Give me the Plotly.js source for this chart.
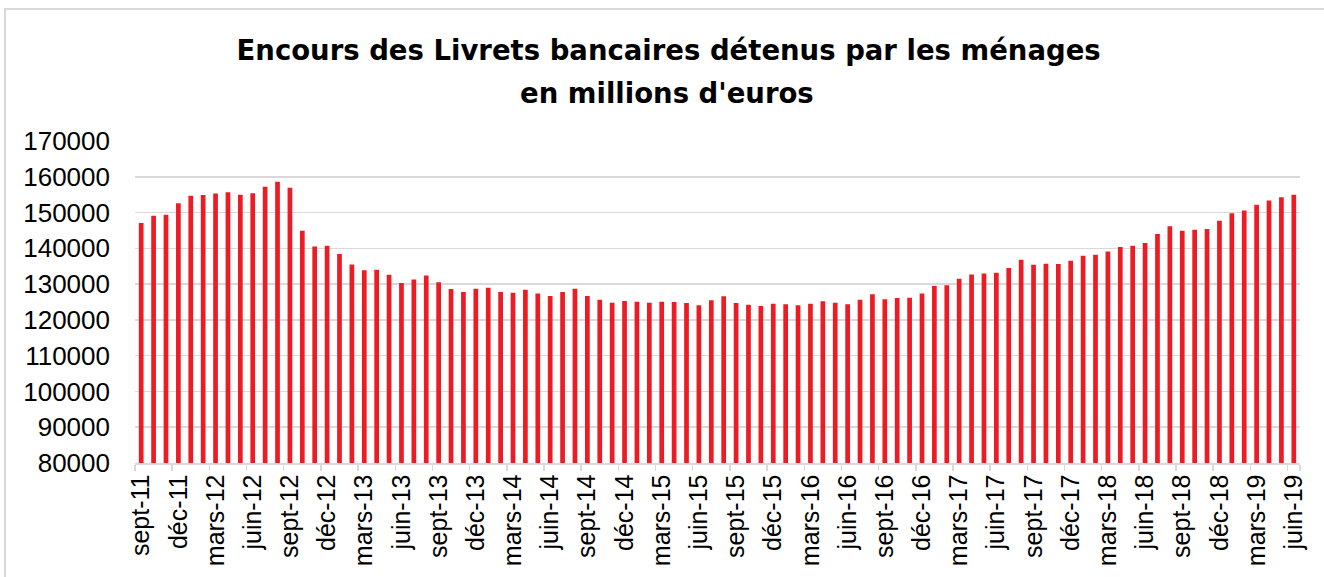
<!DOCTYPE html>
<html>
<head>
<meta charset="utf-8">
<script src="https://cdn.plot.ly/plotly-3.0.1.min.js"></script>
<style>
  html, body { margin: 0; padding: 0; background: #ffffff; }
  #wrap { position: relative; width: 1324px; height: 577px; overflow: hidden; }
  #chart { width: 1324px; height: 577px; }
  #frame { position: absolute; left: 4px; top: 8px; width: 1330px; height: 580px;
           border-left: 2px solid #d9d9d9; border-top: 2px solid #d9d9d9; pointer-events: none; }
</style>
</head>
<body>
<div id="wrap">
  <div id="chart"></div>
  <div id="frame"></div>
</div>
<script>
const categories = [
  "sept-11","oct-11","nov-11","déc-11",
  "janv-12","févr-12","mars-12","avr-12","mai-12","juin-12","juil-12","août-12","sept-12","oct-12","nov-12","déc-12",
  "janv-13","févr-13","mars-13","avr-13","mai-13","juin-13","juil-13","août-13","sept-13","oct-13","nov-13","déc-13",
  "janv-14","févr-14","mars-14","avr-14","mai-14","juin-14","juil-14","août-14","sept-14","oct-14","nov-14","déc-14",
  "janv-15","févr-15","mars-15","avr-15","mai-15","juin-15","juil-15","août-15","sept-15","oct-15","nov-15","déc-15",
  "janv-16","févr-16","mars-16","avr-16","mai-16","juin-16","juil-16","août-16","sept-16","oct-16","nov-16","déc-16",
  "janv-17","févr-17","mars-17","avr-17","mai-17","juin-17","juil-17","août-17","sept-17","oct-17","nov-17","déc-17",
  "janv-18","févr-18","mars-18","avr-18","mai-18","juin-18","juil-18","août-18","sept-18","oct-18","nov-18","déc-18",
  "janv-19","févr-19","mars-19","avr-19","mai-19","juin-19"
];

const encours = [
  147100, 149100, 149400, 152600,
  154700, 154900, 155300, 155700, 155000, 155400, 157200, 158600, 156900, 144900, 140500, 140700,
  138400, 135500, 133900, 134000, 132600, 130300, 131300, 132400, 130500, 128600, 127800, 128700,
  129000, 127800, 127600, 128400, 127400, 126700, 127800, 128700, 126700, 125600, 124800, 125300,
  125100, 124800, 125100, 125000, 124700, 124100, 125500, 126600, 124700, 124200, 123900, 124500,
  124400, 124100, 124500, 125200, 124800, 124400, 125600, 127200, 125800, 126100, 126200, 127400,
  129500, 129700, 131500, 132700, 133000, 133200, 134500, 136800, 135400, 135700, 135600, 136500,
  137900, 138200, 139100, 140400, 140700, 141500, 144000, 146200, 144900, 145200, 145400, 147700,
  149800, 150600, 152200, 153400, 154300, 155000
];

const tickLabels = [
  "sept-11","déc-11","mars-12","juin-12","sept-12","déc-12","mars-13","juin-13","sept-13","déc-13",
  "mars-14","juin-14","sept-14","déc-14","mars-15","juin-15","sept-15","déc-15","mars-16","juin-16",
  "sept-16","déc-16","mars-17","juin-17","sept-17","déc-17","mars-18","juin-18","sept-18","déc-18",
  "mars-19","juin-19"
];

const yTicks = [80000, 90000, 100000, 110000, 120000, 130000, 140000, 150000, 160000, 170000];

const titleLine1 = "Encours des Livrets bancaires détenus par les ménages";
const titleLine2 = "en millions d'euros";

const FONT = "Liberation Sans, Arial, sans-serif";
const TITLE_FONT = "DejaVu Sans, Liberation Sans, sans-serif";

const H = 577, MT = 141, MB = 114;
const plotH = H - MT - MB;
const pxToPaperY = (py) => (H - MB - py) / plotH;

const trace = {
  type: "bar",
  x: categories,
  y: encours,
  marker: { color: "#ED1C24", line: { width: 0 } },
  hoverinfo: "x+y"
};

const layout = {
  width: 1324,
  height: H,
  margin: { l: 135, r: 24, t: MT, b: MB, pad: 0 },
  paper_bgcolor: "#ffffff",
  plot_bgcolor: "#ffffff",
  showlegend: false,
  bargap: 0.62,
  title: {
    text: "<b>" + titleLine1 + "</b>",
    font: { family: TITLE_FONT, size: 27.5, color: "#000000" },
    x: 0.505,
    xanchor: "center",
    xref: "container",
    y: 1 - 50 / H,
    yanchor: "middle",
    yref: "container"
  },
  annotations: [{
    text: "<b>" + titleLine2 + "</b>",
    font: { family: TITLE_FONT, size: 27.5, color: "#000000" },
    xref: "paper", yref: "paper",
    x: (667 - 135) / (1324 - 135 - 24),
    y: pxToPaperY(93),
    xanchor: "center", yanchor: "middle",
    showarrow: false
  }],
  xaxis: {
    type: "category",
    categoryorder: "array",
    categoryarray: categories,
    tickmode: "array",
    tickvals: tickLabels,
    ticktext: tickLabels,
    tickson: "boundaries",
    ticks: "outside",
    ticklen: 6,
    tickwidth: 1.5,
    tickcolor: "#d9d9d9",
    tickangle: -90,
    tickfont: { family: FONT, size: 25, color: "#000000" },
    showline: true,
    linecolor: "#d9d9d9",
    linewidth: 1.5,
    showgrid: false,
    zeroline: false,
    automargin: false,
    range: [-0.5, categories.length - 0.5]
  },
  yaxis: {
    range: [80000, 170000],
    tickmode: "array",
    tickvals: yTicks,
    ticktext: yTicks.map(String),
    tickfont: { family: FONT, size: 26, color: "#000000" },
    ticks: "",
    ticklabelstandoff: 24,
    showgrid: true,
    gridcolor: "#d9d9d9",
    gridwidth: 1.5,
    showline: false,
    zeroline: false,
    automargin: false
  }
};

Plotly.newPlot("chart", [trace], layout, { displayModeBar: false, staticPlot: true });
</script>
</body>
</html>
